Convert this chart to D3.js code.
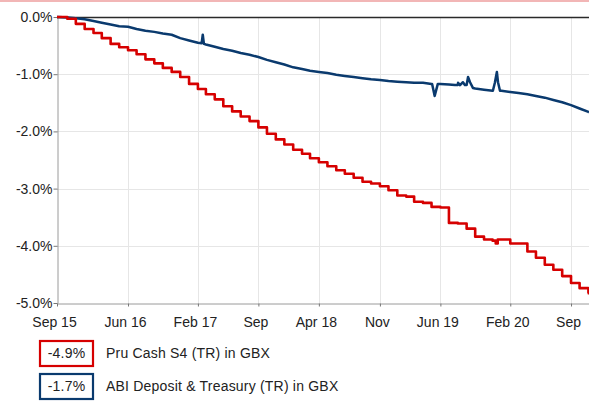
<!DOCTYPE html>
<html><head><meta charset="utf-8">
<script src="https://cdn.jsdelivr.net/npm/d3@7"></script>
<style>
html,body{margin:0;padding:0;background:#fff;}
svg{display:block;font-family:"Liberation Sans",Arial,sans-serif;}
</style></head>
<body>
<svg id="c" width="589" height="401"></svg>
<script>
// ---- data ----
const dates = ["2015-09-26",
 "2015-10-01","2015-11-01","2015-12-01",
 "2016-01-01","2016-02-01","2016-03-01","2016-04-01","2016-05-01","2016-06-01","2016-07-01","2016-08-01","2016-09-01","2016-10-01","2016-11-01","2016-12-01",
 "2017-01-01","2017-02-01","2017-03-01","2017-04-01","2017-05-01","2017-06-01","2017-07-01","2017-08-01","2017-09-01","2017-10-01","2017-11-01","2017-12-01",
 "2018-01-01","2018-02-01","2018-03-01","2018-04-01","2018-05-01","2018-06-01","2018-07-01","2018-08-01","2018-09-01","2018-10-01","2018-11-01","2018-12-01",
 "2019-01-01","2019-02-01","2019-03-01","2019-04-01","2019-05-01","2019-06-01","2019-07-01","2019-08-01","2019-09-01","2019-10-01","2019-11-01","2019-12-01",
 "2020-01-01","2020-02-01","2020-03-01","2020-04-01","2020-05-01","2020-06-01","2020-07-01","2020-08-01","2020-09-01","2020-10-01","2020-11-01",
 "2020-11-03"];
const pruValues = [0,
 0,-0.03,-0.12,-0.21,-0.28,-0.37,-0.47,-0.53,-0.58,-0.65,-0.74,-0.81,-0.89,-0.96,-1.05,
 -1.17,-1.26,-1.35,-1.44,-1.56,-1.65,-1.74,-1.82,-1.93,-2.04,-2.14,-2.23,
 -2.32,-2.39,-2.47,-2.54,-2.61,-2.68,-2.74,-2.81,-2.88,-2.91,-2.96,-3.03,
 -3.12,-3.14,-3.23,-3.25,-3.32,-3.33,-3.60,-3.61,-3.70,-3.84,-3.89,-3.91,
 -3.89,-3.96,-3.96,-4.10,-4.21,-4.33,-4.42,-4.53,-4.65,-4.74,-4.82,
 -4.85];
const abiValues = [0,
 0,-0.01,-0.02,-0.04,-0.07,-0.10,-0.13,-0.16,-0.17,-0.21,-0.24,-0.26,-0.29,-0.31,-0.37,
 -0.41,-0.45,-0.48,-0.52,-0.56,-0.59,-0.63,-0.66,-0.70,-0.75,-0.79,-0.83,
 -0.88,-0.91,-0.94,-0.96,-0.98,-1.01,-1.03,-1.05,-1.07,-1.09,-1.10,-1.12,
 -1.13,-1.14,-1.15,-1.15,-1.17,-1.17,-1.18,-1.19,-1.19,-1.25,-1.27,-1.29,
 -1.29,-1.31,-1.33,-1.35,-1.38,-1.41,-1.45,-1.49,-1.54,-1.60,-1.66,
 -1.67];
// extra daily readings (dips / spikes)
const pruExtraDates = ["2019-12-12","2019-12-19"];
const pruExtraValues = [-3.96,-3.89];
const abiExtraDates = ["2017-02-14","2017-02-18","2017-02-22",
 "2019-05-03","2019-05-12","2019-05-23",
 "2019-07-22","2019-08-02","2019-08-09","2019-08-19","2019-08-26","2019-09-06","2019-09-13","2019-09-23",
 "2019-12-02","2019-12-09","2019-12-16","2019-12-20","2019-12-27"];
const abiExtraValues = [-0.46,-0.31,-0.47,
 -1.17,-1.38,-1.17,
 -1.19,-1.15,-1.19,-1.14,-1.19,-1.05,-1.14,-1.24,
 -1.29,-1.15,-0.96,-1.14,-1.29];
const xTickDates = ["2015-09-26","2016-06-01","2017-02-01","2017-09-01","2018-04-01","2018-11-01","2019-06-01","2020-02-01","2020-09-01"];
const xTickLabels = ["Sep 15","Jun 16","Feb 17","Sep","Apr 18","Nov","Jun 19","Feb 20","Sep"];
const yTicks = [0,-1,-2,-3,-4,-5];
const seriesNames = ["Pru Cash S4 (TR) in GBX","ABI Deposit & Treasury (TR) in GBX"];
const legendValues = ["-4.9%","-1.7%"];
const colors = ["#d60000","#0a3a6e"];

// ---- build ----
const parse = d3.utcParse("%Y-%m-%d");
function series(ds, vs, eds, evs){
  const a = ds.map((d,i)=>({date:parse(d), v:vs[i]}));
  eds.forEach((d,i)=>a.push({date:parse(d), v:evs[i]}));
  a.sort((p,q)=>p.date-q.date);
  return a;
}
const pru = series(dates, pruValues, pruExtraDates, pruExtraValues);
const abi = series(dates, abiValues, abiExtraDates, abiExtraValues);

const L=57, R=589, T=17, B=303;
const x = d3.scaleUtc().domain([parse(dates[0]), parse(dates[dates.length-1])]).range([L,R]);
const y = d3.scaleLinear().domain([-5,0]).range([B,T]);

const svg = d3.select("#c");
svg.append("rect").attr("x",0).attr("y",0).attr("width",589).attr("height",401).attr("fill","#fff");
svg.append("rect").attr("x",0).attr("y",0).attr("width",589).attr("height",2).attr("fill","#f2b6b6");

// grid
const g = svg.append("g");
g.selectAll(".hg").data(yTicks.filter(v=>v<0 && v>-5)).enter().append("line")
 .attr("x1",L).attr("x2",R).attr("y1",d=>Math.round(y(d))+0.5).attr("y2",d=>Math.round(y(d))+0.5)
 .attr("stroke","#e6e6e6").attr("stroke-width",1);
g.selectAll(".vg").data(xTickDates.slice(1)).enter().append("line")
 .attr("x1",d=>Math.round(x(parse(d)))+0.5).attr("x2",d=>Math.round(x(parse(d)))+0.5)
 .attr("y1",T).attr("y2",B).attr("stroke","#e6e6e6").attr("stroke-width",1);

// axes
const xAxis = d3.axisBottom(x).tickValues(xTickDates.map(parse)).tickFormat((d,i)=>xTickLabels[i]).tickSize(3).tickSizeOuter(0);
const xa = svg.append("g").attr("transform",`translate(0,${B+0.5})`).call(xAxis);
xa.select(".domain").attr("stroke","#9a9a9a");
xa.selectAll(".tick line").attr("stroke","#777");
xa.selectAll(".tick text").attr("fill","#222").attr("font-size","14px").attr("font-family","Liberation Sans, Arial, sans-serif").attr("dx","-3").attr("y",14);

const yAxis = d3.axisLeft(y).tickValues(yTicks).tickFormat(d=>d.toFixed(1)+"%").tickSize(4).tickSizeOuter(0);
const ya = svg.append("g").attr("transform",`translate(${L+0.5},0)`).call(yAxis);
ya.select(".domain").attr("stroke","#9a9a9a");
ya.selectAll(".tick line").attr("stroke","#777");
ya.selectAll(".tick text").attr("fill","#222").attr("font-size","14px").attr("font-family","Liberation Sans, Arial, sans-serif").attr("x",-5);

// zero line on top
svg.append("line").attr("x1",L).attr("x2",R).attr("y1",y(0)+0.5).attr("y2",y(0)+0.5).attr("stroke","#2a2a2a").attr("stroke-width",1.3);

// lines
const stepLine = d3.line().x(d=>x(d.date)).y(d=>y(d.v)).curve(d3.curveStepAfter);
const plainLine = d3.line().x(d=>x(d.date)).y(d=>y(d.v)).curve(d3.curveLinear);
svg.append("path").datum(abi).attr("d",plainLine).attr("fill","none").attr("stroke",colors[1]).attr("stroke-width",2.5).attr("stroke-linejoin","round");
svg.append("path").datum(pru).attr("d",stepLine).attr("fill","none").attr("stroke",colors[0]).attr("stroke-width",2.6).attr("stroke-linejoin","round");

// legend
const lg = svg.append("g");
[0,1].forEach(i=>{
  const top = 341 + i*33;
  lg.append("rect").attr("x",40).attr("y",top).attr("width",53).attr("height",25)
    .attr("fill","#fff").attr("stroke",colors[i]).attr("stroke-width",2.2);
  lg.append("text").attr("x",66.5).attr("y",top+16.5).attr("text-anchor","middle")
    .attr("font-size","14px").attr("letter-spacing","0.2px").attr("fill","#222").text(legendValues[i]);
  lg.append("text").attr("x",106).attr("y",top+16.5)
    .attr("font-size","14px").attr("letter-spacing","0.2px").attr("fill","#222").text(seriesNames[i]);
});
</script>
</body></html>
